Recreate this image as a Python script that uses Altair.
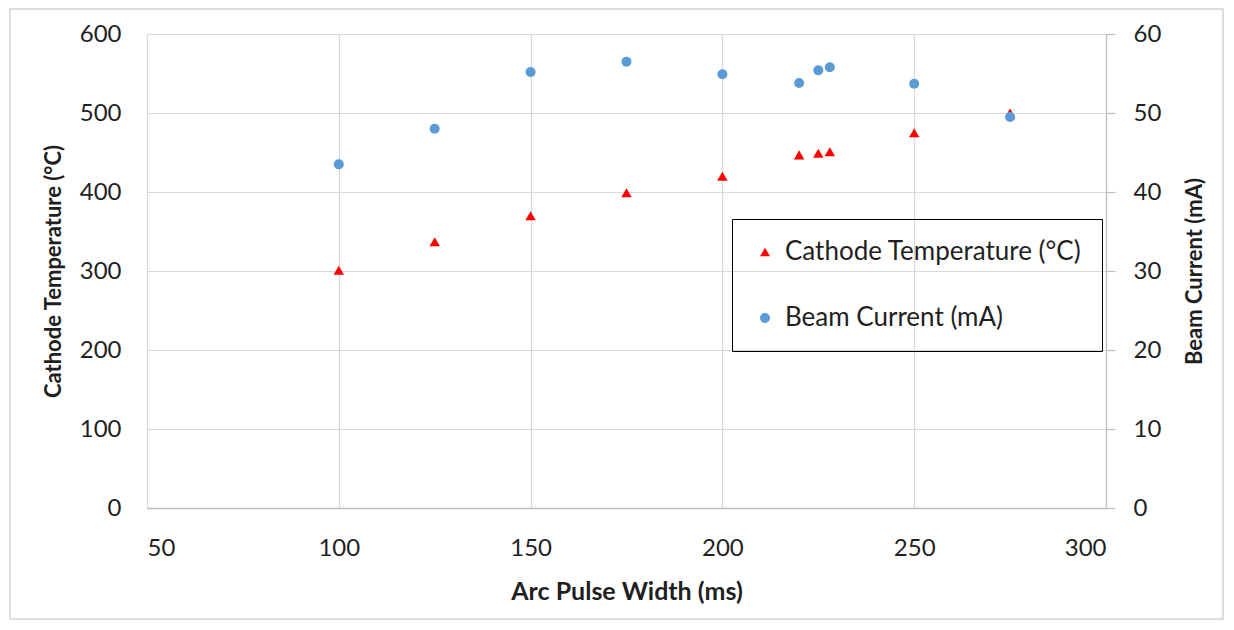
import altair as alt
import pandas as pd

pulse_width = [100, 125, 150, 175, 200, 220, 225, 228, 250, 275]
cathode_temp = [301, 337, 370, 399, 420, 447, 449, 451, 475, 500]
beam_current = [43.5, 48.0, 55.2, 56.5, 54.9, 53.8, 55.4, 55.8, 53.7, 49.5]

s_temp = "Cathode Temperature (°C)"
s_curr = "Beam Current (mA)"
series_names = [s_temp, s_curr]
series_colors = ["#FF0000", "#5B9BD5"]
series_shapes = ["triangle-up", "circle"]

df = pd.DataFrame({"x": pulse_width, "temp": cathode_temp, "curr": beam_current})

FONT = "Lato"
TXT = "#1F1F1F"

legend = alt.Legend(
    title=None, orient="none", legendX=585, legendY=185,
    strokeColor="#000000", padding=20,
    labelFont=FONT, labelFontSize=26, labelColor=TXT, labelOffset=7,
    symbolSize=100, symbolStrokeWidth=0, rowPadding=40,
    labelLimit=500,
)
color = alt.Color("series:N", scale=alt.Scale(domain=series_names, range=series_colors), legend=legend)
shape = alt.Shape("series:N", scale=alt.Scale(domain=series_names, range=series_shapes), legend=legend)

xenc = alt.X(
    "x:Q",
    scale=alt.Scale(domain=[50, 300], nice=False),
    axis=alt.Axis(
        values=[50, 100, 150, 200, 250, 300], title="Arc Pulse Width (ms)",
        ticks=False, domainColor="#BFBFBF", domainWidth=1.5,
        gridColor="#D9D9D9", gridWidth=1.2,
        labelFont=FONT, labelFontSize=24, labelColor=TXT, labelPadding=28,
        titleFont=FONT, titleFontSize=25, titleFontWeight="bold", titleColor=TXT, titlePadding=19,
    ),
)

base = alt.Chart(df)

temp = base.transform_calculate(series=f'"{s_temp}"').mark_point(filled=True, size=110, opacity=1).encode(
    x=xenc,
    y=alt.Y(
        "temp:Q",
        scale=alt.Scale(domain=[0, 600], nice=False),
        axis=alt.Axis(
            orient="left", values=[0, 100, 200, 300, 400, 500, 600], title="Cathode Temperature (°C)",
            ticks=False, domain=False, gridColor="#D9D9D9", gridWidth=1.2,
            labelFont=FONT, labelFontSize=24, labelColor=TXT, labelPadding=26,
            titleFont=FONT, titleFontSize=22, titleFontWeight="bold", titleColor=TXT, titlePadding=14,
        ),
    ),
    color=color,
    shape=shape,
)

curr = base.transform_calculate(series=f'"{s_curr}"').mark_point(filled=True, size=100, opacity=1).encode(
    x=xenc,
    y=alt.Y(
        "curr:Q",
        scale=alt.Scale(domain=[0, 60], nice=False),
        axis=alt.Axis(
            orient="right", values=[0, 10, 20, 30, 40, 50, 60], title="Beam Current (mA)",
            grid=False, ticks=True, tickSize=9, tickColor="#BFBFBF", tickWidth=1.2,
            domain=True, domainColor="#BFBFBF", domainWidth=1.2,
            labelFont=FONT, labelFontSize=24, labelColor=TXT, labelPadding=18,
            titleFont=FONT, titleFontSize=22, titleFontWeight="bold", titleColor=TXT, titlePadding=24,
            titleAngle=270, titleBaseline="top",
        ),
    ),
    color=color,
    shape=shape,
)

frame = alt.Chart(pd.DataFrame({"a": [0]})).mark_rect(
    fill="white", fillOpacity=0, stroke="#D4D4D4", strokeWidth=1.5
).encode(x=alt.value(-137), x2=alt.value(1076), y=alt.value(-25), y2=alt.value(585))

chart = alt.layer(temp, curr, frame).resolve_scale(y="independent").properties(
    width=959, height=474,
    autosize=alt.AutoSizeParams(type="none"),
    padding={"left": 139, "top": 26, "right": 120, "bottom": 114},
).configure_view(stroke=None).configure(background="white")

chart.save("out.html", embed_options={"renderer": "svg", "actions": False})
